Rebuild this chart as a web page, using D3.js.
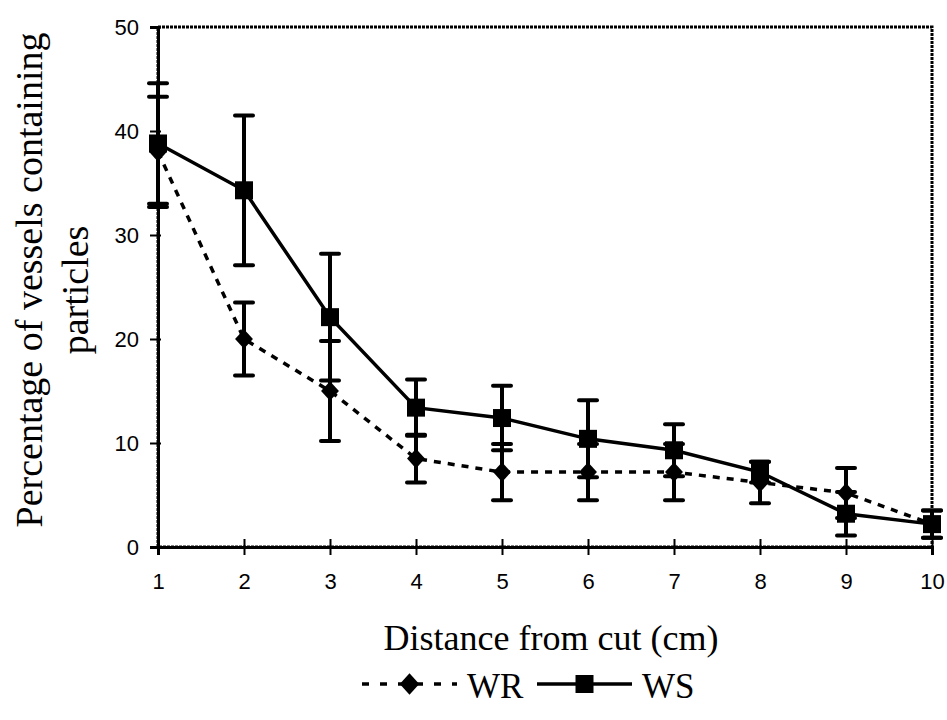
<!DOCTYPE html>
<meta charset="utf-8">
<script src="https://d3js.org/d3.v7.min.js"></script>
<style>
  body { margin: 0; background: #fff; }
</style>
<div id="chart"></div>
<script>
// data
var distances = [1, 2, 3, 4, 5, 6, 7, 8, 9, 10];
var wrValues = [38.0, 20.0, 15.0, 8.5, 7.2, 7.2, 7.2, 6.2, 5.2, 2.2];
var wrErrors = [5.3, 3.5, 4.8, 2.3, 2.7, 2.7, 2.7, 2.0, 2.4, 1.3];
var wsValues = [38.8, 34.3, 22.1, 13.4, 12.4, 10.4, 9.3, 7.2, 3.2, 2.2];
var wsErrors = [5.8, 7.2, 6.1, 2.7, 3.1, 3.7, 2.5, 1.0, 2.1, 1.3];
var yTicks = [0, 10, 20, 30, 40, 50];

var width = 947, height = 720;
var margin = {top: 27, right: 15, bottom: 173, left: 158};
var serif = "Liberation Serif, Times New Roman, serif";

var svg = d3.select("#chart")
  .append("svg")
  .attr("width", width)
  .attr("height", height);

var x = d3.scaleLinear()
  .domain([1, 10])
  .range([margin.left, width - margin.right]);

var y = d3.scaleLinear()
  .domain([0, 50])
  .range([height - margin.bottom, margin.top]);

// diamond a bit wider than d3's default one
var diamond = {
  draw: function(ctx, size) {
    var h = Math.sqrt(size) / 2;
    ctx.moveTo(0, -h * 1.1);
    ctx.lineTo(h, 0);
    ctx.lineTo(0, h * 1.1);
    ctx.lineTo(-h, 0);
    ctx.closePath();
  }
};

// plot frame (scanned, slightly ragged look)
svg.append("rect")
  .attr("x", x(1))
  .attr("y", y(50))
  .attr("width", x(10) - x(1))
  .attr("height", y(0) - y(50))
  .attr("fill", "none")
  .attr("stroke", "#000")
  .attr("stroke-width", 3)
  .attr("stroke-dasharray", "3,1");

// axes
var yAxis = svg.append("g")
  .attr("transform", "translate(" + x(1) + ",0)")
  .call(d3.axisLeft(y).tickValues(yTicks).tickSize(8).tickPadding(11));
yAxis.selectAll(".tick line").attr("x1", 3).attr("stroke-width", 2);

var xAxis = svg.append("g")
  .attr("transform", "translate(0," + y(0) + ")")
  .call(d3.axisBottom(x).tickValues(distances).tickSize(8).tickPadding(18));
xAxis.selectAll(".tick line").attr("y1", -8).attr("stroke-width", 2);

svg.selectAll(".domain").attr("stroke", "#000").attr("stroke-width", 3);
svg.selectAll(".tick text")
  .attr("font-family", "Liberation Sans, Arial, sans-serif")
  .attr("font-size", 22)
  .attr("fill", "#000");

// axis titles
svg.append("text")
  .attr("transform", "translate(42,280) rotate(-90)")
  .attr("text-anchor", "middle")
  .attr("font-family", serif)
  .attr("font-size", 38)
  .attr("fill", "#000")
  .text("Percentage of vessels containing");
svg.append("text")
  .attr("transform", "translate(88,290) rotate(-90)")
  .attr("text-anchor", "middle")
  .attr("font-family", serif)
  .attr("font-size", 38)
  .attr("fill", "#000")
  .text("particles");

svg.append("text")
  .attr("x", 551)
  .attr("y", 650)
  .attr("text-anchor", "middle")
  .attr("font-family", serif)
  .attr("font-size", 36)
  .attr("fill", "#000")
  .text("Distance from cut (cm)");

// series
var series = [
  {name: "WR", values: wrValues, errors: wrErrors, dash: "7,7", symbol: diamond, size: 320},
  {name: "WS", values: wsValues, errors: wsErrors, dash: null, symbol: d3.symbolSquare, size: 324}
];

series.forEach(function(s) {
  var pts = distances.map(function(d, i) {
    return {x: d, v: s.values[i], e: s.errors[i]};
  });
  var g = svg.append("g");

  // error bars
  g.selectAll(".err").data(pts).enter().append("line")
    .attr("x1", function(d) { return x(d.x); })
    .attr("x2", function(d) { return x(d.x); })
    .attr("y1", function(d) { return y(d.v - d.e); })
    .attr("y2", function(d) { return y(d.v + d.e); })
    .attr("stroke", "#000").attr("stroke-width", 4);
  [-1, 1].forEach(function(sign) {
    g.selectAll(".cap" + sign).data(pts).enter().append("line")
      .attr("x1", function(d) { return x(d.x) - 9; })
      .attr("x2", function(d) { return x(d.x) + 9; })
      .attr("y1", function(d) { return y(d.v + sign * d.e); })
      .attr("y2", function(d) { return y(d.v + sign * d.e); })
      .attr("stroke", "#000").attr("stroke-width", 4).attr("stroke-linecap", "round");
  });

  var line = d3.line()
    .x(function(d) { return x(d.x); })
    .y(function(d) { return y(d.v); });
  g.append("path")
    .datum(pts)
    .attr("d", line)
    .attr("fill", "none")
    .attr("stroke", "#000")
    .attr("stroke-width", 3.5)
    .attr("stroke-dasharray", s.dash);

  g.selectAll(".mk").data(pts).enter().append("path")
    .attr("transform", function(d) { return "translate(" + x(d.x) + "," + y(d.v) + ")"; })
    .attr("d", d3.symbol().type(s.symbol).size(s.size))
    .attr("fill", "#000");
});

// legend
var legendY = 684;
var legendItems = [
  {name: "WR", x0: 362, x1: 457, dash: "7,11", symbol: diamond, size: 380, tx: 467},
  {name: "WS", x0: 537, x1: 632, dash: null, symbol: d3.symbolSquare, size: 324, tx: 642}
];
legendItems.forEach(function(l) {
  svg.append("line")
    .attr("x1", l.x0).attr("x2", l.x1)
    .attr("y1", legendY).attr("y2", legendY)
    .attr("stroke", "#000").attr("stroke-width", 3.5)
    .attr("stroke-dasharray", l.dash);
  svg.append("path")
    .attr("transform", "translate(" + ((l.x0 + l.x1) / 2) + "," + legendY + ")")
    .attr("d", d3.symbol().type(l.symbol).size(l.size))
    .attr("fill", "#000");
  svg.append("text")
    .attr("x", l.tx).attr("y", 698)
    .attr("font-family", serif)
    .attr("font-size", 35)
    .attr("fill", "#000")
    .text(l.name);
});
</script>
